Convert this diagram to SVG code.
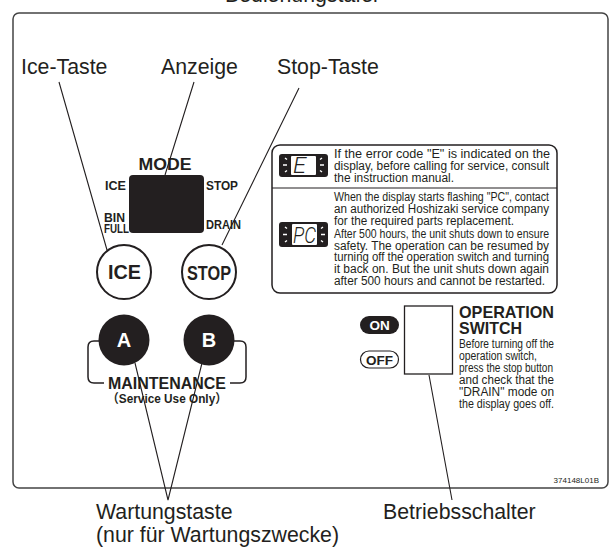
<svg xmlns="http://www.w3.org/2000/svg" width="610" height="547" viewBox="0 0 610 547">
<style>
text{font-family:"Liberation Sans",Arial,sans-serif;fill:#231f20}
.lab{font-size:21.3px}
.b{font-weight:bold}
.small{font-size:12px}
.ln{stroke:#231f20;stroke-width:1.1;fill:none}
.ring{fill:#fff;stroke:#231f20;stroke-width:2}
.dark{fill:#231f20}
.tick{stroke:#fff;stroke-width:1.4}
.seg{font-size:22px;font-style:italic;fill:#231f20;font-family:Roboto,sans-serif;font-weight:300}
</style>
<rect width="610" height="547" fill="#fff"/>
<text class="lab" x="225" y="2">Bedienungstafel</text>
<g id="panel"><rect x="13" y="13" width="595" height="475" rx="6" fill="#fff" stroke="#444" stroke-width="1.5"/></g>
<g id="display">
<text class="b" x="165" y="170" font-size="16.5" text-anchor="middle" textLength="53" lengthAdjust="spacingAndGlyphs">MODE</text>
<rect class="dark" x="129" y="175" width="75" height="58" rx="4"/>
<text class="b" x="105" y="190" font-size="12" textLength="21" lengthAdjust="spacingAndGlyphs">ICE</text>
<text class="b" x="206" y="190" font-size="12" textLength="32" lengthAdjust="spacingAndGlyphs">STOP</text>
<text class="b" x="104" y="222" font-size="12" textLength="21" lengthAdjust="spacingAndGlyphs">BIN</text>
<text class="b" x="104" y="233" font-size="12" textLength="25" lengthAdjust="spacingAndGlyphs">FULL</text>
<text class="b" x="206" y="229" font-size="12" textLength="35" lengthAdjust="spacingAndGlyphs">DRAIN</text>
</g>
<g id="ice-button"><circle class="ring" cx="124" cy="272" r="27"/><text class="b" x="124.500" y="279" font-size="20" text-anchor="middle" textLength="33" lengthAdjust="spacingAndGlyphs">ICE</text></g>
<g id="stop-button"><circle class="ring" cx="209" cy="272" r="27"/><text class="b" x="209" y="280" font-size="20.500" text-anchor="middle" textLength="44" lengthAdjust="spacingAndGlyphs">STOP</text></g>
<g id="maintenance">
<path class="ln" style="stroke-width:1.5" d="M100,341H94Q88,341 88,347V377Q88,383 94,383H104M230,383H240Q246,383 246,377V347Q246,341 240,341H234"/>
<circle class="dark" cx="124" cy="340" r="25.500"/><circle class="dark" cx="209" cy="340" r="25.500"/>
<text class="b" x="124" y="347" font-size="20" text-anchor="middle" style="fill:#fff">A</text>
<text class="b" x="209" y="347" font-size="20" text-anchor="middle" style="fill:#fff">B</text>
<text class="b" x="167" y="389" font-size="17" text-anchor="middle" textLength="118" lengthAdjust="spacingAndGlyphs">MAINTENANCE</text>
<text class="b" x="167" y="403" font-size="12.500" text-anchor="middle" textLength="120" lengthAdjust="spacingAndGlyphs" style="font-family:'Liberation Sans','Noto Sans CJK JP',sans-serif">（Service Use Only）</text>
</g>
<g id="notice">
<rect x="272" y="145" width="285" height="148" rx="8" fill="#fff" stroke="#231f20" stroke-width="1.5"/>
<path class="ln" d="M272,188H557"/>
<rect class="dark" x="279" y="154" width="49" height="23" rx="3"/>
<rect x="291" y="156" width="25" height="19" rx="1" fill="#fff"/>
<rect class="dark" x="279" y="222" width="49" height="25" rx="3"/>
<rect x="292" y="224" width="25" height="21" rx="1" fill="#fff"/>
<path class="tick" d="M285,158l2,1.500M283,165h4M285,172l2,-1.500M322,158l-2,1.500M324,165h-4M322,172l-2,-1.500M285,227l2,1.500M283,234.500h4M285,242l2,-1.500M323,227l-2,1.500M325,234.500h-4M323,242l-2,-1.500"/>
<text class="seg" x="293" y="173" textLength="13" lengthAdjust="spacingAndGlyphs">E</text>
<text class="seg" x="293" y="243" textLength="23" lengthAdjust="spacingAndGlyphs">PC</text>
<g font-size="12">
<text x="334" y="158" textLength="216" lengthAdjust="spacingAndGlyphs">If the error code "E" is indicated on the</text>
<text x="334" y="170" textLength="215" lengthAdjust="spacingAndGlyphs">display, before calling for service, consult</text>
<text x="334" y="182" textLength="120" lengthAdjust="spacingAndGlyphs">the instruction manual.</text>
<text x="334" y="201" textLength="215" lengthAdjust="spacingAndGlyphs">When the display starts flashing "PC", contact</text>
<text x="334" y="213" textLength="215" lengthAdjust="spacingAndGlyphs">an authorized Hoshizaki service company</text>
<text x="334" y="225" textLength="180" lengthAdjust="spacingAndGlyphs">for the required parts replacement.</text>
<text x="334" y="238" textLength="215" lengthAdjust="spacingAndGlyphs">After 500 hours, the unit shuts down to ensure</text>
<text x="334" y="250" textLength="215" lengthAdjust="spacingAndGlyphs">safety. The operation can be resumed by</text>
<text x="334" y="261" textLength="215" lengthAdjust="spacingAndGlyphs">turning off the operation switch and turning</text>
<text x="334" y="273" textLength="215" lengthAdjust="spacingAndGlyphs">it back on. But the unit shuts down again</text>
<text x="334" y="285" textLength="211" lengthAdjust="spacingAndGlyphs">after 500 hours and cannot be restarted.</text>
</g>
</g>
<g id="operation-switch">
<rect x="360" y="316" width="39" height="18" rx="9" class="dark"/>
<text class="b" x="379.500" y="330" font-size="13.500" text-anchor="middle" style="fill:#fff">ON</text>
<rect x="360.500" y="351" width="38" height="17" rx="8.500" fill="#fff" stroke="#231f20" stroke-width="1.200"/>
<text class="b" x="379.500" y="365" font-size="13.500" text-anchor="middle">OFF</text>
<rect x="404.500" y="306" width="48" height="68" fill="#fff" stroke="#231f20" stroke-width="1.300"/>
<text class="b" x="459" y="318" font-size="17" textLength="95" lengthAdjust="spacingAndGlyphs">OPERATION</text>
<text class="b" x="459" y="334" font-size="17" textLength="63" lengthAdjust="spacingAndGlyphs">SWITCH</text>
<text class="small" x="459" y="348" textLength="95" lengthAdjust="spacingAndGlyphs">Before turning off the</text>
<text class="small" x="459" y="360" textLength="78" lengthAdjust="spacingAndGlyphs">operation switch,</text>
<text class="small" x="459" y="372" textLength="94" lengthAdjust="spacingAndGlyphs">press the stop button</text>
<text class="small" x="459" y="384" textLength="95" lengthAdjust="spacingAndGlyphs">and check that the</text>
<text class="small" x="459" y="396" textLength="95" lengthAdjust="spacingAndGlyphs">"DRAIN" mode on</text>
<text class="small" x="459" y="408" textLength="95" lengthAdjust="spacingAndGlyphs">the display goes off.</text>
</g>
<text x="599" y="483" font-size="8" text-anchor="end">374148L01B</text>
<g id="connectors">
<path class="ln" d="M59,82L107,250M194,82L165,175M299,88L222,245M135,363L168,500L202,363M429,375L452,500"/>
</g>
<g id="labels">
<text class="lab" x="21" y="74">Ice-Taste</text>
<text class="lab" x="161" y="74">Anzeige</text>
<text class="lab" x="277" y="74">Stop-Taste</text>
<text class="lab" x="96" y="519">Wartungstaste</text>
<text class="lab" x="96" y="542">(nur für Wartungszwecke)</text>
<text class="lab" x="383" y="519">Betriebsschalter</text>
</g>
</svg>
